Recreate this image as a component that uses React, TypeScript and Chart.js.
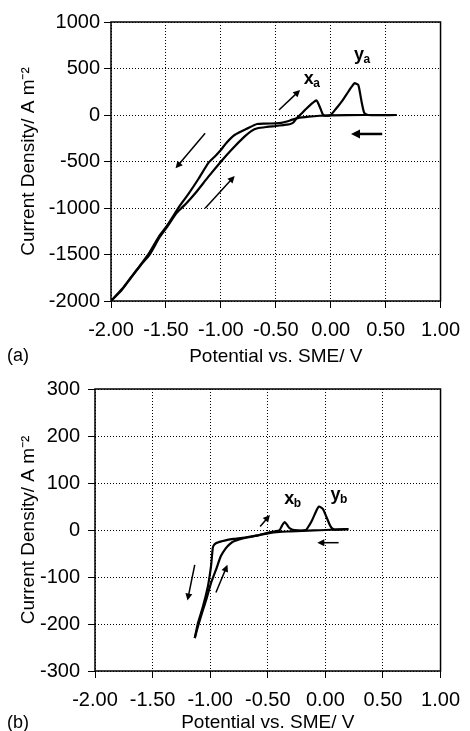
import React, { useEffect, useRef } from "react";
import { Chart, registerables } from "chart.js";

Chart.register(...registerables);

const FONT = "'Liberation Sans', Arial, Helvetica, sans-serif";

// ---------- Panel (a) data ----------
const aXTicks = [-2, -1.5, -1, -0.5, 0, 0.5, 1];
const aYTicks = [-2000, -1500, -1000, -500, 0, 500, 1000];

// cathodic sweep (0.6 V -> -2.0 V)
const aCathE = [0.6, 0.3, 0.0, -0.1, -0.2, -0.3, -0.35, -0.4, -0.45, -0.5, -0.6, -0.67, -0.75, -0.875, -0.95, -1.0, -1.05, -1.113, -1.2, -1.29, -1.37, -1.49, -1.56, -1.65, -1.73, -1.815, -1.9, -1.98, -2.0];
const aCathJ = [0, 0, -3, -8, -18, -33, -50, -70, -84, -90, -92, -97, -140, -215, -300, -376, -440, -515, -680, -840, -970, -1190, -1300, -1480, -1610, -1740, -1870, -1975, -2000];

// anodic (return) sweep (-2.0 V -> 0.6 V)
const aAnoE = [-2.0, -1.9, -1.815, -1.73, -1.65, -1.56, -1.49, -1.4, -1.322, -1.233, -1.113, -1.0, -0.905, -0.785, -0.72, -0.666, -0.58, -0.5, -0.43, -0.367, -0.34, -0.31, -0.27, -0.22, -0.17, -0.13, -0.115, -0.09, -0.068, -0.04, 0.0, 0.05, 0.11, 0.16, 0.215, 0.25, 0.265, 0.284, 0.305, 0.34, 0.6];
const aAnoJ = [-2000, -1880, -1745, -1615, -1505, -1320, -1205, -1050, -960, -842, -663, -502, -376, -233, -170, -143, -128, -118, -108, -97, -80, -35, 10, 70, 125, 158, 130, 60, 0, -8, 0, 70, 161, 250, 341, 325, 250, 126, 25, 0, 0];

const aArrowFromE = [-1.143, -1.143, -0.471, 0.469];
const aArrowFromJ = [-197, -1003, 54, -204];
const aArrowToE = [-1.412, -0.874, -0.278, 0.185];
const aArrowToJ = [-573, -656, 269, -204];

const aPeakNames = ["x", "y"];
const aPeakSubs = ["a", "a"];
const aPeakE = [-0.245, 0.212];
const aPeakJ = [333, 591];

// ---------- Panel (b) data ----------
const bXTicks = [-2, -1.5, -1, -0.5, 0, 0.5, 1];
const bYTicks = [-300, -200, -100, 0, 100, 200, 300];

const bCathE = [0.2, 0.1, 0.0, -0.1, -0.2, -0.3, -0.4, -0.5, -0.6, -0.7, -0.8, -0.85, -0.9, -0.95, -0.97, -0.978, -0.99, -1.0, -1.02, -1.063, -1.106, -1.134];
const bCathJ = [2, 1, 0, -1, -2, -3, -4, -7, -12, -16, -19, -21, -24, -28, -33, -39, -71, -90, -120, -163, -198, -230];

const bAnoE = [-1.134, -1.1, -1.06, -1.035, -0.993, -0.95, -0.908, -0.865, -0.83, -0.794, -0.68, -0.595, -0.5, -0.41, -0.396, -0.375, -0.353, -0.33, -0.311, -0.27, -0.17, -0.14, -0.113, -0.08, -0.056, -0.022, 0.014, 0.04, 0.056, 0.08, 0.2];
const bAnoJ = [-230, -200, -168, -149, -113, -85, -56, -39, -30, -24, -16, -12, -6, -2, 0, 10, 17, 10, 4, 0, 0, 10, 22, 40, 50, 45, 25, 10, 4, 1, 2];

const bArrowFromE = [-1.134, -0.95, -0.566, 0.115];
const bArrowFromJ = [-74, -133, 7.5, -27];
const bArrowToE = [-1.197, -0.85, -0.481, -0.07];
const bArrowToJ = [-150, -74, 32, -27];

const bPeakNames = ["x", "y"];
const bPeakSubs = ["b", "b"];
const bPeakE = [-0.356, 0.044];
const bPeakJ = [56, 64];

const X_TITLE = "Potential vs. SME/ V";
const Y_TITLE = "Current Density/ A m\u207B\u00B2";

type PanelCfg = {
  panel: string;
  xTicks: number[];
  yTicks: number[];
  cathE: number[];
  cathJ: number[];
  anoE: number[];
  anoJ: number[];
  arrFE: number[];
  arrFJ: number[];
  arrTE: number[];
  arrTJ: number[];
  arrWidths: number[];
  peakNames: string[];
  peakSubs: string[];
  peakE: number[];
  peakJ: number[];
  yWidth: number;
  xHeight: number;
  padTop: number;
  padRight: number;
  yTickPad: number;
  xTitlePadBottom: number;
  width: number;
  height: number;
};

function decorPlugin(cfg: PanelCfg) {
  return {
    id: "decor",
    afterDatasetsDraw(chart: any) {
      const { ctx, chartArea, scales } = chart;
      const xs = scales.x;
      const ys = scales.y;
      ctx.save();
      ctx.setLineDash([]);
      // plot frame
      ctx.strokeStyle = "#000";
      ctx.lineWidth = 1.5;
      ctx.strokeRect(chartArea.left, chartArea.top, chartArea.right - chartArea.left, chartArea.bottom - chartArea.top);
      // arrows
      for (let i = 0; i < cfg.arrFE.length; i++) {
        const x1 = xs.getPixelForValue(cfg.arrFE[i]);
        const y1 = ys.getPixelForValue(cfg.arrFJ[i]);
        const x2 = xs.getPixelForValue(cfg.arrTE[i]);
        const y2 = ys.getPixelForValue(cfg.arrTJ[i]);
        const ang = Math.atan2(y2 - y1, x2 - x1);
        const w = cfg.arrWidths[i];
        const hl = 4 + w * 2;
        const hw = 2 + w;
        ctx.lineWidth = w;
        ctx.beginPath();
        ctx.moveTo(x1, y1);
        ctx.lineTo(x2 - Math.cos(ang) * hl * 0.6, y2 - Math.sin(ang) * hl * 0.6);
        ctx.stroke();
        ctx.beginPath();
        ctx.moveTo(x2, y2);
        ctx.lineTo(x2 - Math.cos(ang) * hl - Math.sin(ang) * hw, y2 - Math.sin(ang) * hl + Math.cos(ang) * hw);
        ctx.lineTo(x2 - Math.cos(ang) * hl + Math.sin(ang) * hw, y2 - Math.sin(ang) * hl - Math.cos(ang) * hw);
        ctx.closePath();
        ctx.fillStyle = "#000";
        ctx.fill();
      }
      // peak labels
      ctx.fillStyle = "#000";
      ctx.textBaseline = "alphabetic";
      ctx.textAlign = "left";
      for (let i = 0; i < cfg.peakNames.length; i++) {
        const px = xs.getPixelForValue(cfg.peakE[i]);
        const py = ys.getPixelForValue(cfg.peakJ[i]);
        ctx.font = `bold 18px ${FONT}`;
        ctx.fillText(cfg.peakNames[i], px, py);
        const w = ctx.measureText(cfg.peakNames[i]).width;
        ctx.font = `bold 12px ${FONT}`;
        ctx.fillText(cfg.peakSubs[i], px + w - 0.5, py + 3);
      }
      // panel letter
      ctx.font = `18px ${FONT}`;
      ctx.textBaseline = "middle";
      ctx.fillText(cfg.panel, 7, chart.height - 11.5 - cfg.xTitlePadBottom);
      ctx.restore();
    },
  };
}

function Panel({ cfg }: { cfg: PanelCfg }) {
  const ref = useRef<HTMLCanvasElement | null>(null);
  useEffect(() => {
    if (!ref.current) return;
    const tickFont = { family: FONT, size: 20 };
    const gridCommon = {
      color: "#000",
      lineWidth: 1,
      borderDash: [1, 2],
      drawTicks: true,
      tickLength: 7,
      tickColor: "#000",
      tickWidth: 1,
      tickBorderDash: [],
    };
    const chart = new Chart(ref.current, {
      type: "scatter",
      data: {
        datasets: [
          {
            label: "cathodic",
            data: cfg.cathE.map((e, i) => ({ x: e, y: cfg.cathJ[i] })),
            showLine: true,
            borderColor: "#000",
            borderWidth: 2.2,
            pointRadius: 0,
            tension: 0.2,
          },
          {
            label: "anodic",
            data: cfg.anoE.map((e, i) => ({ x: e, y: cfg.anoJ[i] })),
            showLine: true,
            borderColor: "#000",
            borderWidth: 2.2,
            pointRadius: 0,
            tension: 0.2,
          },
        ],
      },
      options: {
        animation: false,
        responsive: false,
        maintainAspectRatio: false,
        layout: { padding: { top: cfg.padTop, right: cfg.padRight, left: 0, bottom: 0 } },
        plugins: { legend: { display: false }, tooltip: { enabled: false } },
        scales: {
          x: {
            type: "linear",
            min: cfg.xTicks[0],
            max: cfg.xTicks[cfg.xTicks.length - 1],
            afterBuildTicks: (s: any) => {
              s.ticks = cfg.xTicks.map((v) => ({ value: v }));
            },
            afterFit: (s: any) => {
              s.height = cfg.xHeight;
            },
            ticks: {
              font: tickFont,
              color: "#000",
              padding: 10,
              maxRotation: 0,
              autoSkip: false,
              callback: (v: any) => Number(v).toFixed(2),
            },
            grid: gridCommon,
            border: { display: false, dash: [1, 2] },
            title: {
              display: true,
              text: X_TITLE,
              font: { family: FONT, size: 19 },
              color: "#000",
              padding: { top: 0, bottom: cfg.xTitlePadBottom },
            },
          },
          y: {
            type: "linear",
            min: cfg.yTicks[0],
            max: cfg.yTicks[cfg.yTicks.length - 1],
            afterBuildTicks: (s: any) => {
              s.ticks = cfg.yTicks.map((v) => ({ value: v }));
            },
            afterFit: (s: any) => {
              s.width = cfg.yWidth;
            },
            ticks: {
              font: tickFont,
              color: "#000",
              padding: cfg.yTickPad,
              autoSkip: false,
              callback: (v: any) => String(v),
            },
            grid: gridCommon,
            border: { display: false, dash: [1, 2] },
            title: {
              display: true,
              text: Y_TITLE,
              font: { family: FONT, size: 19 },
              color: "#000",
              padding: { top: 17, bottom: 0 },
            },
          },
        },
      },
      plugins: [decorPlugin(cfg)],
    } as any);
    return () => chart.destroy();
  }, [cfg]);
  return <canvas ref={ref} width={cfg.width} height={cfg.height} style={{ display: "block", width: cfg.width, height: cfg.height }} />;
}

const panelA: PanelCfg = {
  panel: "(a)",
  xTicks: aXTicks,
  yTicks: aYTicks,
  cathE: aCathE,
  cathJ: aCathJ,
  anoE: aAnoE,
  anoJ: aAnoJ,
  arrFE: aArrowFromE,
  arrFJ: aArrowFromJ,
  arrTE: aArrowToE,
  arrTJ: aArrowToJ,
  arrWidths: [1.5, 1.5, 1.5, 2.5],
  peakNames: aPeakNames,
  peakSubs: aPeakSubs,
  peakE: aPeakE,
  peakJ: aPeakJ,
  yWidth: 111,
  xHeight: 67,
  padTop: 22,
  padRight: 24,
  yTickPad: 4,
  xTitlePadBottom: 0,
  width: 470,
  height: 368,
};

const panelB: PanelCfg = {
  panel: "(b)",
  xTicks: bXTicks,
  yTicks: bYTicks,
  cathE: bCathE,
  cathJ: bCathJ,
  anoE: bAnoE,
  anoJ: bAnoJ,
  arrFE: bArrowFromE,
  arrFJ: bArrowFromJ,
  arrTE: bArrowToE,
  arrTJ: bArrowToJ,
  arrWidths: [1.5, 1.5, 1.5, 1.5],
  peakNames: bPeakNames,
  peakSubs: bPeakSubs,
  peakE: bPeakE,
  peakJ: bPeakJ,
  yWidth: 95,
  xHeight: 69,
  padTop: 21,
  padRight: 23,
  yTickPad: 8,
  xTitlePadBottom: 5.5,
  width: 470,
  height: 372,
};

export default function App() {
  return (
    <div style={{ position: "fixed", left: 0, top: 0, width: 470, height: 731, overflow: "hidden", background: "#fff" }}>
      <div style={{ position: "absolute", left: 0, top: 0 }}>
        <Panel cfg={panelA} />
      </div>
      <div style={{ position: "absolute", left: 0, top: 368 }}>
        <Panel cfg={panelB} />
      </div>
    </div>
  );
}
